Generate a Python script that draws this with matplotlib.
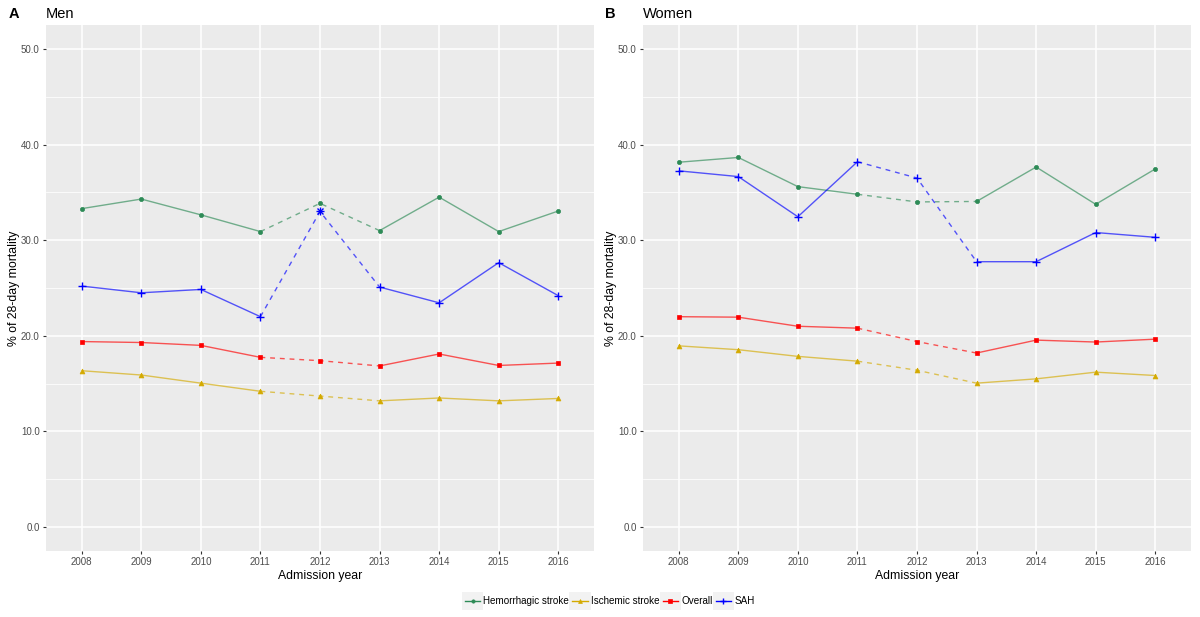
"""28-day mortality by admission year, men vs women (ggplot-like look)"""
import numpy as np
import matplotlib
matplotlib.use("Agg")
from matplotlib import pyplot as plt
from matplotlib.legend_handler import HandlerLine2D
from matplotlib.lines import Line2D
from matplotlib.patches import Rectangle

plt.rcParams['font.family'] = ['Liberation Sans', 'DejaVu Sans']

# data
years = [2008, 2009, 2010, 2011, 2012, 2013, 2014, 2015, 2016]
dash_from, dash_to = 2011, 2013   # segment drawn dashed

men_hem = [33.3, 34.3, 32.65, 30.9, 33.85, 31.0, 34.5, 30.9, 33.05]
men_isc = [16.35, 15.9, 15.05, 14.2, 13.7, 13.2, 13.5, 13.2, 13.45]
men_overall = [19.4, 19.3, 19.0, 17.75, 17.4, 16.85, 18.1, 16.9, 17.15]
men_sah = [25.2, 24.5, 24.85, 22.0, 33.0, 25.1, 23.45, 27.65, 24.2]
men_sah_star = [2012]   # point drawn with an asterisk shape

women_hem = [38.15, 38.65, 35.6, 34.8, 34.0, 34.05, 37.65, 33.75, 37.45]
women_isc = [18.95, 18.55, 17.85, 17.35, 16.4, 15.05, 15.5, 16.2, 15.85]
women_overall = [22.0, 21.95, 21.0, 20.8, 19.4, 18.2, 19.55, 19.35, 19.65]
women_sah = [37.25, 36.65, 32.45, 38.2, 36.5, 27.75, 27.75, 30.8, 30.3]

series_names = ["Hemorrhagic stroke", "Ischemic stroke", "Overall", "SAH"]
colors = ["#2E8B57", "#D4AA00", "#FF0000", "#0000FF"]
markers = ["o", "^", "s", "+"]
msizes = [3.0, 3.5, 3.3, 6.0]

y_ticks = [0, 10, 20, 30, 40, 50]


def draw_series(ax, vals, color, marker, ms):
    x = np.array(years)
    y = np.array(vals)
    i0, i1 = years.index(dash_from), years.index(dash_to)
    kw = dict(color=color, lw=1.0, alpha=0.65, solid_capstyle='butt')
    ax.plot(x[:i0 + 1], y[:i0 + 1], ls='-', **kw)
    ax.plot(x[i0:i1 + 1], y[i0:i1 + 1], ls=(0, (3.5, 3.5)), **kw)
    ax.plot(x[i1:], y[i1:], ls='-', **kw)
    ax.plot(x, y, ls='none', marker=marker, ms=ms, color=color,
            mew=1.0 if marker == '+' else 0.5)


def style_axes(ax, title, letter, fig_x):
    ax.set_facecolor("#EBEBEB")
    for s in ax.spines.values():
        s.set_visible(False)
    ax.set_xlim(2007.4, 2016.6)
    ax.set_ylim(-2.5, 52.5)
    ax.set_xticks(years)
    ax.set_xticklabels([str(y) for y in years])
    ax.set_yticks(y_ticks)
    ax.set_yticklabels([f"{v:.1f}" for v in y_ticks])
    ax.set_yticks([5, 15, 25, 35, 45], minor=True)
    ax.grid(True, which='major', color='white', lw=1.1)
    ax.grid(True, which='minor', axis='y', color='white', lw=0.55)
    ax.tick_params(axis='x', which='minor', bottom=False)
    ax.tick_params(axis='y', which='minor', left=False)
    ax.tick_params(which='major', length=2.5, width=0.8, color='#333333',
                   labelsize=7.0, labelcolor='#4D4D4D', pad=2)
    ax.set_axisbelow(True)
    ax.set_xlabel("Admission year", fontsize=8.8, labelpad=2, color='black')
    ax.set_ylabel("% of 28-day mortality", fontsize=8.8, labelpad=0.5, color='black')
    ax.set_title(title, loc='left', fontsize=10.5, pad=5)
    ax.figure.text(fig_x, 0.977, letter, fontsize=10.5, fontweight='bold',
                   ha='left', va='center')


class KeyBgHandler(HandlerLine2D):
    """Line legend key drawn on a grey ggplot-style key box"""
    def create_artists(self, legend, orig_handle, xdescent, ydescent,
                       width, height, fontsize, trans):
        arts = super().create_artists(legend, orig_handle, xdescent, ydescent,
                                      width, height, fontsize, trans)
        bg = Rectangle((-xdescent - 2, -ydescent - 4), width + 4, height + 8,
                       facecolor='#F2F2F2', edgecolor='none', transform=trans)
        return [bg] + arts


fig = plt.figure(figsize=(12, 6.17), dpi=100)
ax_m = fig.add_axes([46 / 1200, 66 / 617, 548 / 1200, 526 / 617])
ax_w = fig.add_axes([643 / 1200, 66 / 617, 548 / 1200, 526 / 617])

men = [men_hem, men_isc, men_overall, men_sah]
women = [women_hem, women_isc, women_overall, women_sah]

for vals, c, m, ms in zip(men, colors, markers, msizes):
    draw_series(ax_m, vals, c, m, ms)
for vals, c, m, ms in zip(women, colors, markers, msizes):
    draw_series(ax_w, vals, c, m, ms)

# asterisk shape on flagged SAH point
for yr in men_sah_star:
    ax_m.plot(yr, men_sah[years.index(yr)], ls='none', marker='x', ms=4.2,
              color=colors[3], mew=1.0)

style_axes(ax_m, "Men", "A", 9 / 1200)
style_axes(ax_w, "Women", "B", 605 / 1200)

handles = [Line2D([], [], color=c, marker=m, ms=ms * 0.8, lw=1.0,
                  mew=1.0 if m == '+' else 0.5)
           for c, m, ms in zip(colors, markers, msizes)]
fig.legend(handles, series_names, loc='center',
           bbox_to_anchor=(0.508, 1 - 601 / 617),
           ncol=4, frameon=False, fontsize=7.1, handlelength=1.6,
           handletextpad=0.3, columnspacing=0.3,
           handler_map={Line2D: KeyBgHandler()})

fig.savefig("out.png", dpi=100)
